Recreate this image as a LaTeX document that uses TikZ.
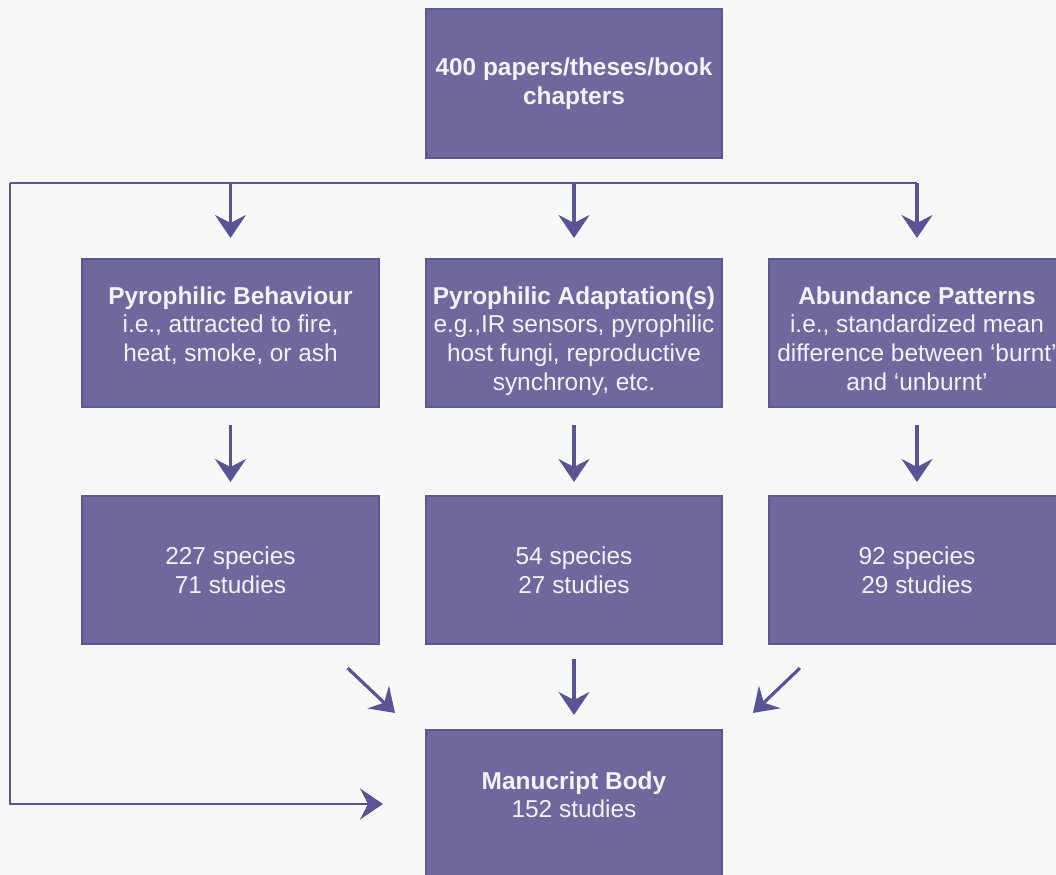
\documentclass[tikz,border=0pt]{standalone}
\usepackage{fontspec}
\setmainfont{Liberation Sans}
\usepackage{tikz}
\usetikzlibrary{calc}
\usetikzlibrary{arrows.meta}
\definecolor{box-purple}{RGB}{110, 104, 157}
\definecolor{border-purple}{RGB}{92, 85, 150}
\definecolor{arrow-purple}{RGB}{90, 83, 148}
\definecolor{text-white}{RGB}{244, 241, 248}
\definecolor{background-gray}{RGB}{249, 248, 248}
\tikzset{
   flowbox/.style={draw=border-purple,line width=0.9pt,fill=box-purple,minimum width=5.93cm,minimum height=2.97cm,inner sep=0pt,text=text-white,align=center,font=\fontsize{13.9}{16.4}\selectfont},
   boxtext/.style={inner sep=0pt,text=text-white,align=center,anchor=north,font=\fontsize{13.9}{16.4}\selectfont},
   flowarrow/.style={draw=arrow-purple,line width=1.8pt,-{Stealth[length=0.46cm,width=0.62cm,inset=0.16cm]}},
   busline/.style={draw=arrow-purple,line width=1.2pt}
}
\begin{document}
\begin{tikzpicture}[x=0.02cm,y=-0.02cm]
   \fill[use as bounding box,background-gray] (0,0) rectangle (1056,875);
   \clip (0,0) rectangle (1056,875);
   % boxes
   \node[flowbox] (papers) at (574,83.5) {\textbf{400 papers/theses/book}\\\textbf{chapters}};
   \node[flowbox] (behav) at (230.5,333) {};
   \node[flowbox] (adapt) at (574,333) {};
   \node[flowbox] (abund) at (917,333) {};
   \node[boxtext] (behavtxt) at ([yshift=-0.56cm]behav.north) {\textbf{Pyrophilic Behaviour}\\i.e., attracted to fire,\\heat, smoke, or ash};
   \node[boxtext] (adapttxt) at ([yshift=-0.56cm]adapt.north) {\textbf{Pyrophilic Adaptation(s)}\\e.g.,IR sensors, pyrophilic\\host fungi, reproductive\\synchrony, etc.};
   \node[boxtext] (abundtxt) at ([yshift=-0.56cm]abund.north) {\textbf{Abundance Patterns}\\i.e., standardized mean\\difference between ‘burnt’\\and ‘unburnt’};
   \node[flowbox] (behavn) at (230.5,570) {227 species\\71 studies};
   \node[flowbox] (adaptn) at (574,570) {54 species\\27 studies};
   \node[flowbox] (abundn) at (917,570) {92 species\\29 studies};
   \node[flowbox] (body) at (574,804) {};
   \node[boxtext] (bodytxt) at ([yshift=-0.84cm]body.north) {\textbf{Manucript Body}\\152 studies};
   % bus line
   \coordinate (bus) at (10,183);
   \draw[busline] (abund.north |- bus) -- (bus);
   \draw[flowarrow,line width=1.2pt] (bus) |- ([xshift=-0.84cm]body.west);
   \foreach \b in {behav,adapt,abund}
      \draw[flowarrow] (\b.north |- bus) -- ([yshift=0.4cm]\b.north);
   \foreach \b in {behav,adapt,abund}
      \draw[flowarrow] ([yshift=-0.34cm]\b.south) -- ([yshift=0.26cm]\b n.north);
   % into the body
   \draw[flowarrow] ([yshift=-0.28cm]adaptn.south) -- ([yshift=0.28cm]body.north);
   \draw[flowarrow] ($(behavn.south east)+(-0.64cm,-0.46cm)$) -- ($(body.north west)+(-0.6cm,0.32cm)$);
   \draw[flowarrow] ($(abundn.south west)+(0.64cm,-0.46cm)$) -- ($(body.north east)+(0.6cm,0.32cm)$);
\end{tikzpicture}
\end{document}
